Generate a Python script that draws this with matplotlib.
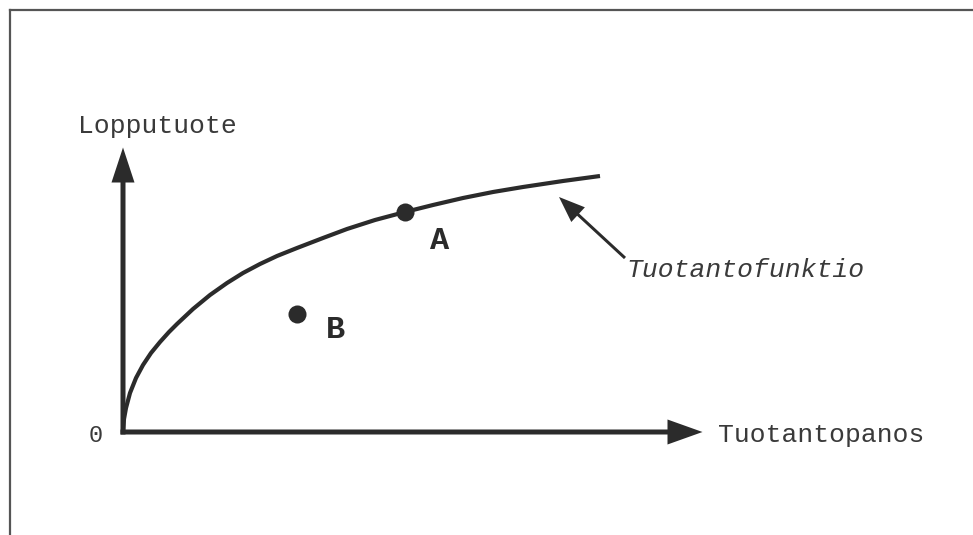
import matplotlib
matplotlib.use("Agg")
import matplotlib.pyplot as plt
from matplotlib.lines import Line2D
from matplotlib.patches import FancyArrow

# Data (in drawing units: x to the right of origin, y above origin)
curve_x = [0, 1, 3, 7, 13, 20, 28, 37, 46, 54, 70, 87, 104, 120, 137, 154, 174, 200, 224, 252, 282, 310, 340, 370, 400, 440, 477]
curve_y = [0, 13, 24, 39, 54, 67, 79, 90, 100, 108, 123, 137, 149, 159, 168, 176, 184, 194, 203, 212, 220, 227, 234, 240, 245, 251, 256]
point_names = ["A", "B"]
point_x = [282, 174]
point_y = [220, 118]
label_pos = {"A": (317, 191), "B": (213, 102)}
x_axis_label = "Tuotantopanos"
y_axis_label = "Lopputuote"
curve_label = "Tuotantofunktio"
origin_label = "0"

fig = plt.figure(figsize=(9.73, 5.35), dpi=100)
ax = fig.add_axes([0, 0, 1, 1])
ax.set_xlim(-123, 850)
ax.set_ylim(-103, 432)
ax.axis("off")

dark = "#2b2b2b"
txt = "#3a3a3a"

# frame (left and top edges of scanned box)
fig.add_artist(Line2D([9.5 / 973, 9.5 / 973], [0, 1 - 10 / 535], transform=fig.transFigure,
                      color="#555555", lw=1.6))
fig.add_artist(Line2D([9.5 / 973, 1], [1 - 10 / 535, 1 - 10 / 535], transform=fig.transFigure,
                      color="#555555", lw=1.6))

# axes arrows
ax.add_patch(FancyArrow(-2.5, 0, 582, 0, width=5, head_width=25, head_length=35,
                        length_includes_head=True, color=dark, lw=0))
ax.add_patch(FancyArrow(0, -2.5, 0, 287, width=5, head_width=23, head_length=35,
                        length_includes_head=True, color=dark, lw=0))

# production function curve
ax.plot(curve_x, curve_y, color=dark, lw=3.0, solid_capstyle="butt", solid_joinstyle="round")

# points
ax.plot(point_x, point_y, "o", color=dark, markersize=13, markeredgewidth=0)
for n in point_names:
    lx, ly = label_pos[n]
    ax.text(lx, ly, n, family="Liberation Mono", fontweight="bold", fontsize=23,
            color=dark, ha="center", va="center")

# pointer arrow to curve
ax.add_patch(FancyArrow(502, 174, -66, 61, width=3, head_width=20, head_length=26,
                        length_includes_head=True, color=dark, lw=0))

# labels
ax.text(-45, 306, y_axis_label, family="Liberation Mono", fontsize=19, color=txt,
        ha="left", va="center")
ax.text(595, -3, x_axis_label, family="Liberation Mono", fontsize=19, color=txt,
        ha="left", va="center")
ax.text(503, 162, curve_label, family="Liberation Mono", style="italic", fontsize=19,
        color=txt, ha="left", va="center")
ax.text(-27, -3, origin_label, family="Liberation Mono", fontsize=17, color=txt,
        ha="center", va="center")

fig.savefig("out.png", dpi=100, facecolor="white")
